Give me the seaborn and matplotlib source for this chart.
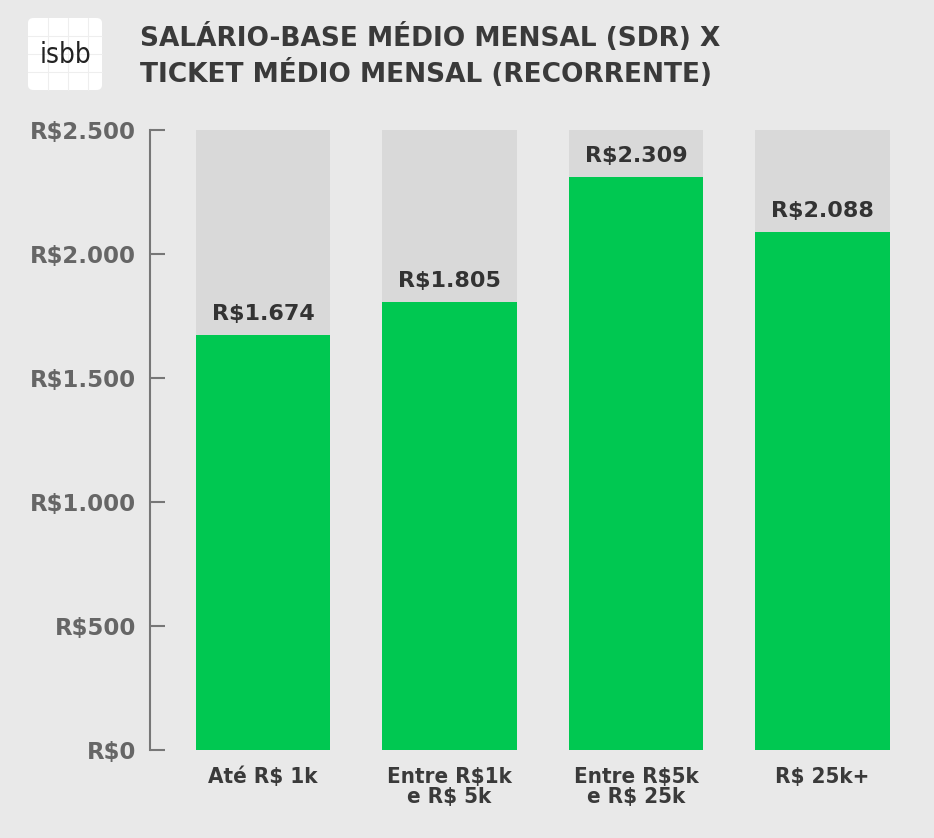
import matplotlib
matplotlib.use("Agg")
import matplotlib.pyplot as plt
from matplotlib.patches import FancyBboxPatch
import seaborn as sns
import pandas as pd

# Data
categories = ["Até R$ 1k", "Entre R$1k\ne R$ 5k", "Entre R$5k\ne R$ 25k", "R$ 25k+"]
ticket = [1674, 1805, 2309, 2088]
y_max = 2500
y_ticks = [0, 500, 1000, 1500, 2000, 2500]
y_tick_labels = ["R$0", "R$500", "R$1.000", "R$1.500", "R$2.000", "R$2.500"]
value_labels = ["R$1.674", "R$1.805", "R$2.309", "R$2.088"]

BG = "#e9e9e9"
GREEN = "#00c851"
TRACK = "#d9d9d9"
DARK = "#3a3a3a"
GREY_TXT = "#666666"

sns.set_theme(style="white")
plt.rcParams["font.family"] = ["DejaVu Sans"]

df = pd.DataFrame({"faixa": categories, "ticket": ticket, "topo": [y_max] * len(categories)})

fig = plt.figure(figsize=(9.34, 8.38), dpi=100, facecolor=BG)
ax = fig.add_axes([0.1606, 0.105, 0.80, 0.7399])
ax.set_facecolor(BG)

# grey track behind every bar, then the green value bar
sns.barplot(data=df, x="faixa", y="topo", order=categories, color=TRACK,
            width=0.72, saturation=1, linewidth=0, ax=ax)
sns.barplot(data=df, x="faixa", y="ticket", order=categories, color=GREEN,
            width=0.72, saturation=1, linewidth=0, ax=ax)

for i, (v, lab) in enumerate(zip(ticket, value_labels)):
    ax.annotate(lab, xy=(i, v), xytext=(0, 8), textcoords="offset points",
                ha="center", va="bottom", fontsize=16, fontweight="bold", color="#333333")

ax.set_xlim(-0.606, 3.4)
ax.set_ylim(0, y_max)
ax.set_yticks(y_ticks)
ax.set_yticklabels(y_tick_labels, fontsize=16.5, fontweight="bold", color=GREY_TXT)
ax.tick_params(axis="y", left=True, direction="in", length=11, width=1.5,
               color="#777777", pad=10)
ax.tick_params(axis="x", length=0, pad=12)
ax.set_xticks(range(len(categories)))
ax.set_xticklabels(categories, fontsize=16, fontweight="bold", color=DARK,
                   fontstretch="condensed", linespacing=1.05)
ax.set_xlabel("")
ax.set_ylabel("")
for s in ["top", "right", "bottom"]:
    ax.spines[s].set_visible(False)
ax.spines["left"].set_color("#777777")
ax.spines["left"].set_linewidth(1.5)

# logo
logo = FancyBboxPatch((28 / 934, 1 - 90 / 838), 74 / 934, 72 / 838,
                      boxstyle="round,pad=0,rounding_size=0.006",
                      transform=fig.transFigure, facecolor="white", edgecolor="none")
fig.patches.append(logo)
for gx in [48, 68, 88]:
    fig.add_artist(plt.Line2D([gx / 934, gx / 934], [1 - 90 / 838, 1 - 18 / 838],
                              transform=fig.transFigure, color="#eeeeee", lw=0.8))
for gy in [36, 54, 72]:
    fig.add_artist(plt.Line2D([28 / 934, 102 / 934], [1 - gy / 838, 1 - gy / 838],
                              transform=fig.transFigure, color="#eeeeee", lw=0.8))
fig.text(65 / 934, 1 - 55 / 838, "isbb", ha="center", va="center", fontsize=20,
         color="#222222", fontstretch="condensed")

fig.text(140 / 934, 1 - 38 / 838, "SALÁRIO-BASE MÉDIO MENSAL (SDR) X",
         ha="left", va="center", fontsize=19, fontweight="bold", color=DARK)
fig.text(140 / 934, 1 - 74 / 838, "TICKET MÉDIO MENSAL (RECORRENTE)",
         ha="left", va="center", fontsize=19, fontweight="bold", color=DARK)

fig.savefig("out.png", dpi=100, facecolor=BG)
